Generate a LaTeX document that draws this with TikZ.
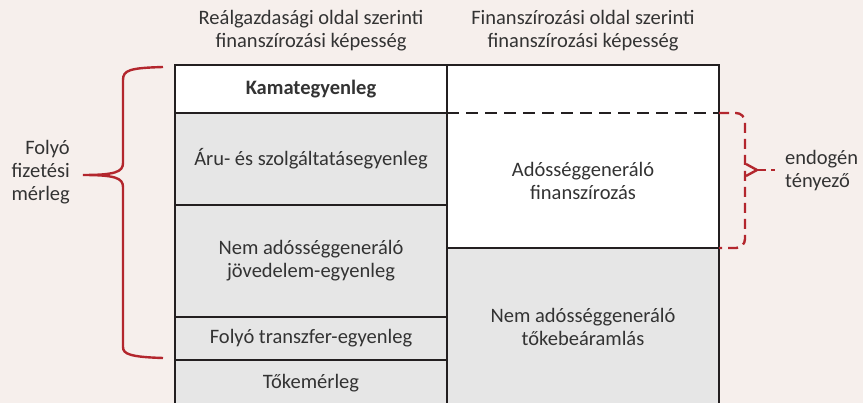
\documentclass[tikz,border=0pt]{standalone}
\usepackage{fontspec}
\setmainfont{Carlito}
\definecolor{bg}{HTML}{F6EFEC}
\definecolor{cellgray}{HTML}{E6E6E6}
\definecolor{linecol}{HTML}{231F20}
\definecolor{txt}{HTML}{333333}
\definecolor{brace}{HTML}{B3262D}

\begin{document}
\begin{tikzpicture}[x=1pt, y=-1pt,
    font=\fontsize{20.5}{23}\selectfont,
    cell/.style={draw=linecol, line width=2pt, fill=white, minimum width=272pt,
      inner sep=0pt, outer sep=0pt, align=center, text=txt},
    graycell/.style={cell, fill=cellgray},
    blankcell/.style={cell, draw=none},
    head/.style={align=center, text=txt},
    bracered/.style={draw=brace, line width=2.4pt},
    dashline/.style={dash pattern=on 12pt off 7pt}]
  \useasboundingbox (0,0) rectangle (863,403);
  \clip (0,0) rectangle (863,403);
  \fill[bg] (0,0) rectangle (863,403);

  % column titles
  \node at (311,31) (hreal) [head] {Reálgazdasági oldal szerinti\\finanszírozási képesség};
  \node at (583,31) (hfin) [head] {Finanszírozási oldal szerinti\\finanszírozási képesség};

  % left column
  \node at (311,89) (kamat) [cell, minimum height=48pt] {\textbf{Kamategyenleg}};
  \node at (311,159) (aru) [graycell, minimum height=92pt] {Áru- és szolgáltatásegyenleg};
  \node at (311,261) (nemjov) [graycell, minimum height=112pt] {Nem adósséggeneráló\\jövedelem-egyenleg};
  \node at (311,338.5) (transz) [graycell, minimum height=43pt] {Folyó transzfer-egyenleg};
  \node at (311,383) (toke) [graycell, minimum height=46pt] {Tőkemérleg};

  % right column
  \node at (583,327) (nemtoke) [graycell, minimum height=158pt] {Nem adósséggeneráló\\tőkebeáramlás};
  \node at (583,89) (rtop) [blankcell, minimum height=48pt] {};
  \node at (583,180.5) (rfin) [blankcell, minimum height=135pt] {Adósséggeneráló\\finanszírozás};
  \draw[linecol, line width=2pt] (rtop.north west) rectangle (rfin.south east);
  \draw[linecol, line width=2pt, dashline] (rtop.south west) -- (rtop.south east);

  % endogenous bracket
  \node at (782,171) (endo) [anchor=west, align=left, text=txt, inner sep=3pt] {endogén\\tényező};
  \draw[bracered, dash pattern=on 10pt off 6pt, rounded corners=9pt]
    (rtop.south east) -- ++(26,0) |- (rfin.south east);
  \draw[bracered] (746,164) -- (757,170) -- (746,176);
  \draw[bracered, dash pattern=on 9pt off 5pt, shorten >=7pt] (757,170) -- (endo.west |- 0,170);

  % current account brace
  \node at (70,172) (folyo) [anchor=east, align=right, text=txt, inner sep=0pt] {Folyó\\fizetési\\mérleg};
  \draw[bracered] (163,67) .. controls (130,68) and (123,70) .. (123,80)
    -- (123,163) .. controls (123,172) and (115,175) .. (83,175)
    .. controls (115,175) and (123,178) .. (123,187)
    -- (123,347) .. controls (123,354) and (130,357) .. (163,358);
\end{tikzpicture}
\end{document}
